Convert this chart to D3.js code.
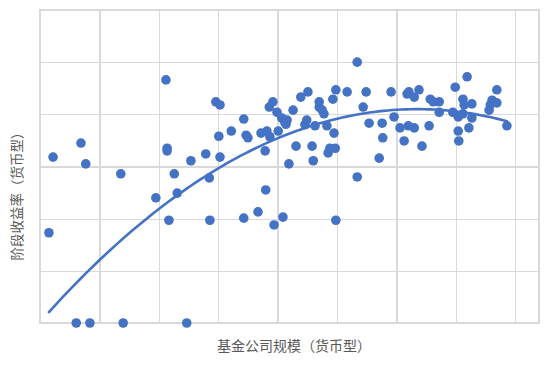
<!DOCTYPE html>
<html>
<head>
<meta charset="utf-8">
<script src="https://cdn.jsdelivr.net/npm/d3@7"></script>
<style>
  html, body { margin: 0; padding: 0; background: #fff; }
  svg { display: block; }
</style>
</head>
<body>
<svg id="chart" width="550" height="365"></svg>
<script>
// ---- data ----
const xTitle = "基金公司规模（货币型）";
const yTitle = "阶段收益率（货币型）";
const xTicks = [0, 1, 2, 3, 4, 5, 6, 7, 8];
const yTicks = [0, 1, 2, 3, 4, 5, 6];
const xDomain = [0, 8.4];
const yDomain = [0, 6];

const sizeValues = [
  0.15, 0.22, 0.69, 0.77, 0.61, 0.84, 1.36, 1.40, 1.95, 2.12,
  2.14, 2.14, 2.17, 2.26, 2.31, 2.47, 2.54, 2.79, 2.85, 2.86,
  2.96, 3.03, 3.01, 3.03, 3.22, 3.43, 3.43, 3.47, 3.50, 3.67,
  3.72, 3.79, 3.80, 3.82, 3.87, 3.92, 3.86, 3.99, 4.07, 4.12,
  4.01, 3.94, 4.09, 4.19, 4.16, 4.14, 4.26, 4.31, 4.39, 4.51,
  4.49, 4.46, 4.58, 4.60, 4.63, 4.70, 4.70, 4.75, 4.78, 4.83,
  4.85, 4.88, 4.97, 4.95, 4.98, 4.93, 4.98, 5.17, 5.34, 5.34,
  5.44, 5.49, 5.54, 5.71, 5.76, 5.77, 5.91, 5.96, 6.06, 6.13,
  6.18, 6.21, 6.30, 6.20, 6.30, 6.38, 6.43, 6.57, 6.62, 6.72,
  6.55, 6.72, 6.99, 7.19, 6.95, 7.04, 7.12, 7.27, 7.04, 7.05,
  7.12, 7.14, 7.27, 7.22, 7.61, 7.69, 7.69, 7.58, 7.56, 7.86
];
const returnValues = [
  1.73, 3.18, 3.45, 3.05, 0.00, 0.00, 2.86, 0.00, 2.40, 4.66,
  3.35, 3.30, 1.97, 2.86, 2.49, 0.00, 3.11, 3.24, 2.78, 1.97,
  4.24, 4.18, 3.58, 3.18, 3.68, 3.91, 2.01, 3.60, 3.55, 2.13,
  3.64, 3.30, 2.55, 3.68, 3.57, 4.24, 4.14, 4.04, 3.93, 3.85,
  3.68, 1.88, 2.03, 3.05, 3.89, 3.81, 4.08, 3.39, 4.33, 4.43,
  3.89, 3.80, 3.39, 3.11, 3.78, 4.24, 4.14, 4.08, 4.01, 3.78,
  3.26, 3.35, 3.35, 3.64, 4.47, 4.29, 1.97, 4.43, 5.00, 2.80,
  4.14, 4.43, 3.83, 3.16, 3.83, 3.55, 4.43, 3.95, 3.74, 3.49,
  4.39, 4.43, 4.33, 3.78, 3.74, 4.47, 3.39, 4.29, 4.24, 4.24,
  3.78, 4.04, 4.52, 4.72, 4.04, 3.95, 4.01, 3.93, 3.68, 3.49,
  4.29, 4.18, 4.20, 3.74, 4.27, 4.47, 4.22, 4.18, 4.08, 3.78
];
// polynomial (order 2) trendline coefficients as drawn in the reference: a + b*x + c*x^2
const trendCoefficients = [0.02, 1.285, -0.1012];

// ---- layout ----
const margin = { left: 40, right: 11, top: 10, bottom: 42 };
const W = 550, H = 365;
const color = "#4472C4";
const gridColor = "#d9d9d9";
const textColor = "#595959";
const font = "'Noto Sans CJK SC', 'Noto Sans', sans-serif";

const svg = d3.select("#chart");
const x = d3.scaleLinear().domain(xDomain).range([margin.left, W - margin.right]);
const y = d3.scaleLinear().domain(yDomain).range([H - margin.bottom, margin.top]);

// gridlines via axes
const gx = svg.append("g")
  .attr("transform", `translate(0,${margin.top})`)
  .call(d3.axisBottom(x).tickValues(xTicks).tickSize(H - margin.bottom - margin.top).tickFormat(""));
const gy = svg.append("g")
  .attr("transform", `translate(${margin.left},0)`)
  .call(d3.axisRight(y).tickValues(yTicks).tickSize(W - margin.right - margin.left).tickFormat(""));
[gx, gy].forEach(g => {
  g.select(".domain").remove();
  g.selectAll("line").attr("stroke", gridColor).attr("stroke-width", 1.3).attr("shape-rendering", "crispEdges");
});
// plot border
svg.append("rect")
  .attr("x", x(xDomain[0])).attr("y", y(yDomain[1]))
  .attr("width", x(xDomain[1]) - x(xDomain[0]))
  .attr("height", y(yDomain[0]) - y(yDomain[1]))
  .attr("fill", "none").attr("stroke", gridColor).attr("stroke-width", 1.3)
  .attr("shape-rendering", "crispEdges");

// points
const points = sizeValues.map((v, i) => ({ x: v, y: returnValues[i] }));
svg.append("g").selectAll("circle").data(points).join("circle")
  .attr("cx", d => x(d.x)).attr("cy", d => y(d.y)).attr("r", 4.8)
  .attr("fill", color);

// trendline
const [xmin, xmax] = d3.extent(sizeValues);
const [ca, cb, cc] = trendCoefficients;
const trend = d3.range(0, 101).map(i => {
  const xv = xmin + (xmax - xmin) * i / 100;
  return { x: xv, y: ca + cb * xv + cc * xv * xv };
});
svg.append("path").datum(trend)
  .attr("d", d3.line().x(d => x(d.x)).y(d => y(d.y)))
  .attr("fill", "none").attr("stroke", color).attr("stroke-width", 2.6)
  .attr("stroke-linecap", "round");

// axis titles
svg.append("text")
  .attr("x", 294).attr("y", 351)
  .attr("text-anchor", "middle")
  .attr("font-family", font).attr("font-size", 14).attr("fill", textColor)
  .text(xTitle);
svg.append("text")
  .attr("transform", "translate(22,193) rotate(-90)")
  .attr("text-anchor", "middle")
  .attr("font-family", font).attr("font-size", 13.5).attr("fill", textColor)
  .text(yTitle);
</script>
</body>
</html>
